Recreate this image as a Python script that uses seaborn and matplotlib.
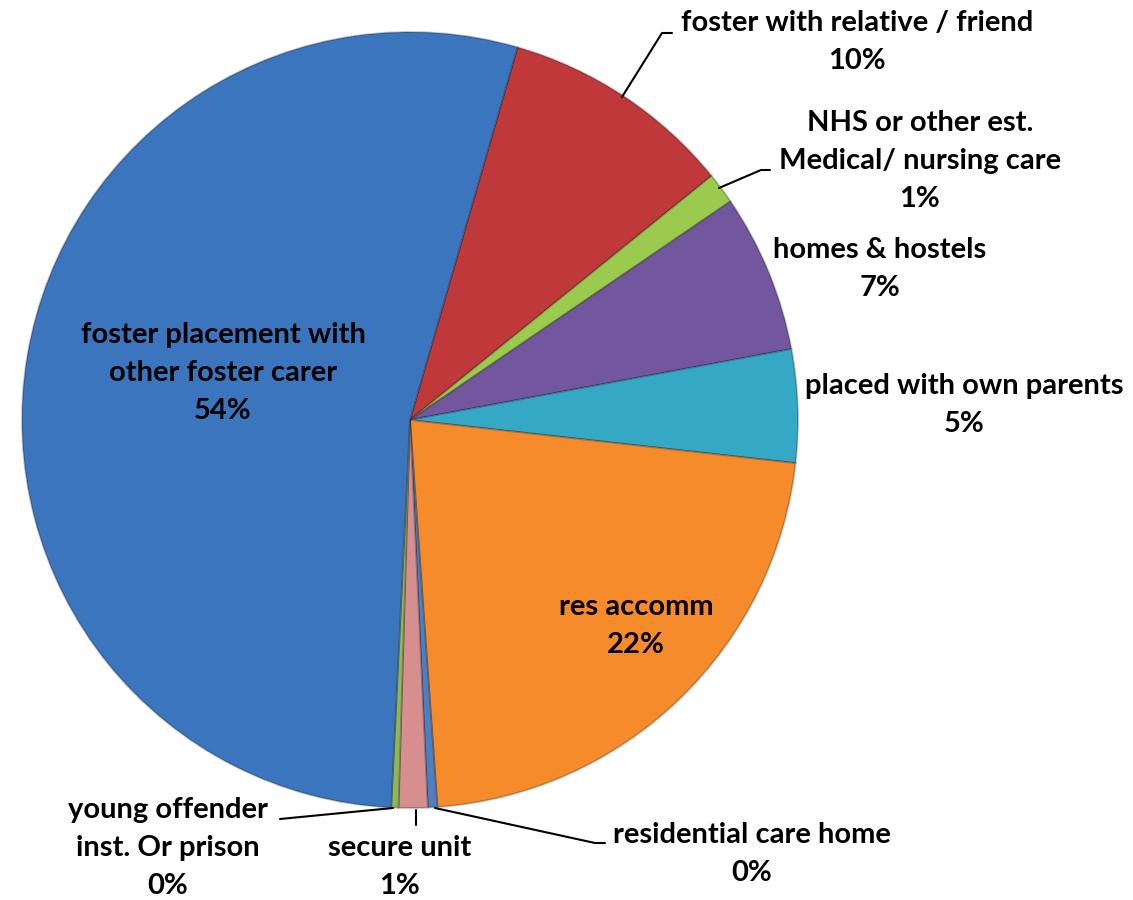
import matplotlib
matplotlib.use("Agg")
import matplotlib.pyplot as plt
import seaborn as sns
import numpy as np

# ---- data (clockwise from the red slice) ----
categories = ["foster with relative / friend",
              "NHS or other est.\nMedical/ nursing care",
              "homes & hostels",
              "placed with own parents",
              "res accomm",
              "residential care home",
              "secure unit",
              "young offender\ninst. Or prison",
              "foster placement with\nother foster carer"]
values = [9.7, 1.3, 6.6, 4.7, 22.1, 0.4, 1.2, 0.3, 53.7]
colors = ["#C0393A", "#9BCB4E", "#72579E", "#35A8C6", "#F68B2C",
          "#4F7FBE", "#D68E8F", "#8FB65A", "#3B75BE"]

sns.set_theme(style="white")
plt.rcParams['font.family'] = ['Lato', 'DejaVu Sans']

W, H = 1133, 900
fig = plt.figure(figsize=(W / 100, H / 100), dpi=100)
ax = fig.add_axes([0, 0, 1, 1])

cx, cy, R = 410, 420, 388
def P(x, y):
    return (x, H - y)

wedges, _ = ax.pie(values, colors=colors, startangle=73.9, counterclock=False,
                   center=P(cx, cy), radius=R, frame=True,
                   wedgeprops=dict(edgecolor="#00000040", linewidth=1.3))
ax.set_xlim(0, W)
ax.set_ylim(0, H)
ax.set_aspect('equal')
ax.axis('off')

# label layout (pixel coords, centre of text block)
label_pos = [(857, 42), (920, 161), (880, 269), (964, 405), (636, 626),
             (752, 854), (400, 867), (168, 848), (223, 373)]
for cat, v, (lx, ly) in zip(categories, values, label_pos):
    txt = f"{cat}\n{round(v):.0f}%"
    ax.text(*P(lx, ly), txt, ha='center', va='center', multialignment='center',
            fontsize=21, fontweight='bold', color='black', linespacing=1.58)

# leader lines
leaders = [
    [(622, 97), (662, 33), (672, 33)],
    [(719, 188), (761, 170), (770, 170)],
    [(393, 808), (280, 819)],
    [(416, 810), (416, 825)],
    [(435, 808), (595, 843), (605, 843)],
]
for pts in leaders:
    xs = [p[0] for p in pts]
    ys = [H - p[1] for p in pts]
    ax.plot(xs, ys, color='black', lw=1.5)

fig.savefig("out.png", dpi=100)
